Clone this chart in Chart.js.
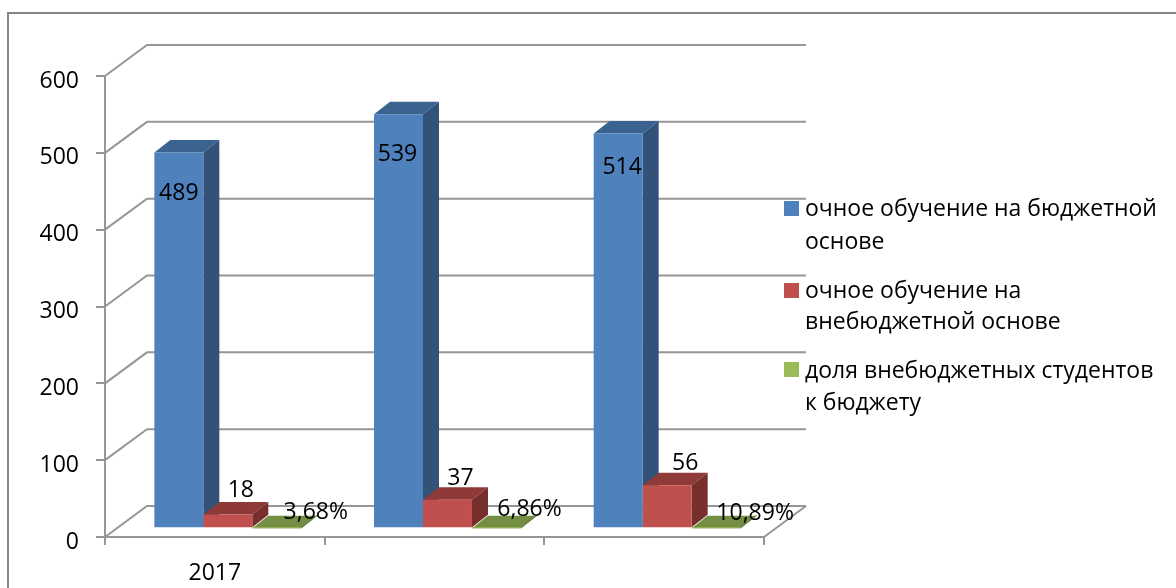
<!DOCTYPE html>
<html>
<head>
<meta charset="utf-8">
<style>
  html, body { margin: 0; padding: 0; background: #fff; }
  canvas { display: block; }
</style>
<script src="https://cdn.jsdelivr.net/npm/chart.js"></script>
</head>
<body>
<canvas id="chart" width="1176" height="588"></canvas>
<script>
const categories = ['2017', '', ''];
const budgetValues = [489, 539, 514];
const paidValues = [18, 37, 56];
const shareValues = [0.0368, 0.0686, 0.1089];
const yTicks = [0, 100, 200, 300, 400, 500, 600];
const seriesNames = ['очное обучение на бюджетной основе', 'очное обучение на внебюджетной основе', 'доля внебюджетных студентов к бюджету'];

const FONT = '"Open Sans", sans-serif';
const FONT_SIZE = 23;
const GRID = '#969696';

// front, top, side of each box
const colors = [
  ['#4f81bd', '#3b638f', '#32527a'],
  ['#c0504d', '#8e3a38', '#772f2e'],
  ['#9bbb59', '#748e43', '#627a38'],
];

// 3d look: where the bars sit, how deep they are, where the back wall is
const barShift = { x: 13, y: -8.7 };
const barDepth = { x: 16, y: -12.5 };
const wall = { x: 42, y: -31 };

// label positions relative to the top centre of the front face
const labelNudge = [
  [[0, 41], [-1, 40], [4, 34]],
  [[13, -24], [13, -21], [18, -22]],
  [[39, -16], [33, -19], [39, -15]],
];

// legend wrapped by hand as in the picture
const legendLines = [
  { box: 201, lines: [['очное обучение на бюджетной', 209], ['основе', 242]] },
  { box: 283, lines: [['очное обучение на', 291], ['внебюджетной основе', 322]] },
  { box: 362, lines: [['доля внебюджетных студентов', 371], ['к бюджету', 403]] },
];

function line(ctx, pts) {
  ctx.beginPath();
  pts.forEach(([x, y], i) => (i ? ctx.lineTo(x, y) : ctx.moveTo(x, y)));
  ctx.stroke();
}

function poly(ctx, pts, fill) {
  ctx.fillStyle = fill;
  ctx.beginPath();
  pts.forEach(([x, y], i) => (i ? ctx.lineTo(x, y) : ctx.moveTo(x, y)));
  ctx.closePath();
  ctx.fill();
}

const frame3d = {
  id: 'frame3d',
  beforeDraw(chart) {
    const { ctx, width, height } = chart;
    ctx.save();
    ctx.fillStyle = '#fff';
    ctx.fillRect(0, 0, width, height);
    ctx.strokeStyle = '#868686';
    ctx.lineWidth = 2;
    line(ctx, [[8, height], [8, 13], [width, 13]]);
    ctx.restore();
  },
  beforeDatasetsDraw(chart) {
    const { ctx, scales } = chart;
    const { left, right } = chart.chartArea;
    ctx.save();
    ctx.strokeStyle = GRID;
    ctx.lineWidth = 2;
    yTicks.forEach((v) => {
      const y = scales.y.getPixelForValue(v);
      line(ctx, [[left, y], [left + wall.x, y + wall.y], [right + wall.x, y + wall.y]]);
    });
    const y0 = scales.y.getPixelForValue(0);
    line(ctx, [[right, y0], [right + wall.x, y0 + wall.y]]);
    ctx.restore();

    ctx.save();
    ctx.translate(barShift.x, barShift.y);
    chart.data.datasets.forEach((ds, i) => {
      chart.getDatasetMeta(i).data.forEach((bar) => {
        const l = bar.x - bar.width / 2;
        const r = bar.x + bar.width / 2;
        const d = barDepth;
        poly(ctx, [[l, bar.y], [l + d.x, bar.y + d.y], [r + d.x, bar.y + d.y], [r, bar.y]], colors[i][1]);
        poly(ctx, [[r, bar.y], [r + d.x, bar.y + d.y], [r + d.x, bar.base + d.y], [r, bar.base]], colors[i][2]);
      });
    });
    // front faces are drawn by chart.js inside this translate
  },
  afterDatasetsDraw(chart) {
    const { ctx } = chart;
    ctx.restore();

    ctx.save();
    ctx.fillStyle = '#000';
    ctx.font = `${FONT_SIZE}px ${FONT}`;
    ctx.textAlign = 'center';
    ctx.textBaseline = 'middle';
    chart.data.datasets.forEach((ds, i) => {
      chart.getDatasetMeta(i).data.forEach((bar, j) => {
        const v = ds.data[j];
        const text = i === 2 ? (v * 100).toFixed(2).replace('.', ',') + '%' : String(v);
        const [nx, ny] = labelNudge[i][j];
        ctx.fillText(text, bar.x + barShift.x + nx, bar.y + barShift.y + ny);
      });
    });

    // legend
    ctx.textAlign = 'left';
    legendLines.forEach((item, i) => {
      ctx.fillStyle = colors[i][0];
      ctx.fillRect(784, item.box, 15, 15);
      ctx.fillStyle = '#000';
      item.lines.forEach(([text, y]) => ctx.fillText(text, 805, y));
    });
    ctx.restore();
  },
};

new Chart(document.getElementById('chart'), {
  type: 'bar',
  data: {
    labels: categories,
    datasets: [
      { label: seriesNames[0], data: budgetValues, backgroundColor: colors[0][0] },
      { label: seriesNames[1], data: paidValues, backgroundColor: colors[1][0] },
      { label: seriesNames[2], data: shareValues, backgroundColor: colors[2][0] },
    ],
  },
  options: {
    responsive: false,
    animation: false,
    devicePixelRatio: 1,
    categoryPercentage: 0.669,
    barPercentage: 1,
    clip: false,
    layout: { padding: { top: 76, right: 412, left: 0, bottom: 0 } },
    plugins: { legend: { display: false }, tooltip: { enabled: false }, title: { display: false } },
    scales: {
      x: {
        offset: true,
        afterFit(scale) { scale.height = 51; },
        grid: { offset: true, drawOnChartArea: false, drawTicks: true, tickLength: 8, color: GRID, lineWidth: 2 },
        border: { color: GRID, width: 2 },
        ticks: { autoSkip: false, maxRotation: 0, padding: 15, color: '#000', font: { family: FONT, size: FONT_SIZE } },
      },
      y: {
        min: 0,
        max: 600,
        afterFit(scale) { scale.width = 105; },
        afterBuildTicks(scale) { scale.ticks = yTicks.map((value) => ({ value })); },
        afterUpdate(scale) {
          // tick labels sit a little lower than the tick marks in the original
          const draw = scale.drawLabels;
          scale.drawLabels = function (area) {
            this.ctx.save();
            this.ctx.translate(0, 2.5);
            draw.call(this, area);
            this.ctx.restore();
          };
        },
        grid: { drawOnChartArea: false, drawTicks: true, tickLength: 9, color: GRID, lineWidth: 2 },
        border: { color: GRID, width: 2 },
        ticks: { padding: 17, color: '#000', font: { family: FONT, size: FONT_SIZE } },
      },
    },
  },
  plugins: [frame3d],
});
</script>
</body>
</html>
